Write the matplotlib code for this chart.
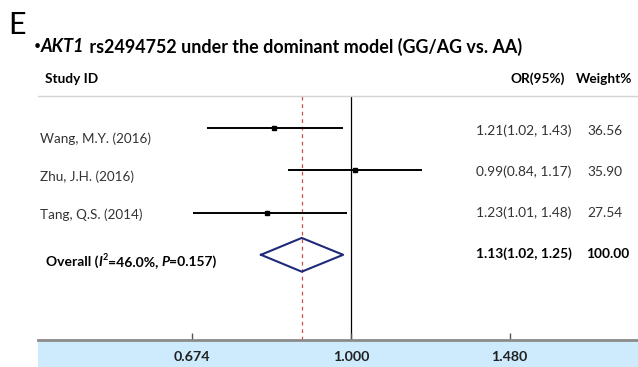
import numpy as np
import matplotlib
matplotlib.use('Agg')
import matplotlib.pyplot as plt

plt.rcParams['font.family'] = ['Lato', 'DejaVu Sans']

# data
studies = ['Wang, M.Y. (2016)', 'Zhu, J.H. (2016)', 'Tang, Q.S. (2014)']
or_est = [1.21, 0.99, 1.23]
or_low = [1.02, 0.84, 1.01]
or_high = [1.43, 1.17, 1.48]
weights = ['36.56', '35.90', '27.54']
pooled = [1.13, 1.02, 1.25]
pooled_weight = '100.00'
xticks = [0.674, 1.000, 1.480]
xtick_labels = ['0.674', '1.000', '1.480']

W, H = 638, 367
fig = plt.figure(figsize=(W / 100, H / 100), dpi=100)

def fx(x):
    return x / W

def fy(y):
    return 1 - y / H

# blue band under the axis (own axes, drawn first)
band = fig.add_axes([fx(38), 0, 1 - fx(38), 25 / H])
band.set_facecolor('#cdebfd')
band.set_xticks([])
band.set_yticks([])
for s in band.spines.values():
    s.set_visible(False)
band.set_zorder(0)

# main forest axes: spans pixel x 38..638, y 96..340
ax = fig.add_axes([fx(38), fy(340), fx(600), 244 / H])
ax.set_zorder(1)
ax.patch.set_alpha(0)
ax.set_xscale('log')
ax.set_xlim(np.exp(-0.775), np.exp(0.710))
ax.set_ylim(5.02, -0.765)
ax.set_yticks([])
for s in ['left', 'right']:
    ax.spines[s].set_visible(False)
ax.spines['top'].set_color('#d4d4d4')
ax.spines['top'].set_linewidth(1)
ax.spines['bottom'].set_color('#8a8a8a')
ax.spines['bottom'].set_linewidth(2)
ax.xaxis.set_minor_locator(matplotlib.ticker.NullLocator())
ax.set_xticks(xticks)
ax.set_xticklabels(xtick_labels, fontsize=10.3, fontweight='bold', color='#222222')
ax.tick_params(axis='x', direction='in', length=5, width=1, color='#555555', pad=8)

# reference lines (plot is drawn on the inverted OR)
ax.axvline(1, color='black', lw=0.9, zorder=1)
ax.axvline(1 / pooled[0], color='#c8504d', lw=0.9, ls=(0, (3, 3)), zorder=1)

for i in range(len(studies)):
    ax.hlines(i, 1 / or_high[i], 1 / or_low[i], color='black', lw=1.4, zorder=2)
    ax.plot(1 / or_est[i], i, 's', color='black', markersize=3, zorder=3)

k = len(studies)
dx = [1 / pooled[2], 1 / pooled[0], 1 / pooled[1], 1 / pooled[0], 1 / pooled[2]]
dy = [k, k - 0.4, k, k + 0.4, k]
ax.plot(dx, dy, color='#1f2a7a', lw=1.5, zorder=3)

# text helpers
renderer = fig.canvas.get_renderer()

def runs(x, y, parts, size):
    # draw text pieces one after another starting at pixel x
    for txt, kw in parts:
        k2 = dict(kw)
        sz = k2.pop('size', size)
        dyp = k2.pop('dy', 0)
        t = fig.text(fx(x), fy(y - dyp), txt, fontsize=sz, va='center', ha='left', **k2)
        bb = t.get_window_extent(renderer=renderer)
        x += bb.width

fig.text(fx(8), fy(25), 'E', fontsize=22, va='center', ha='left')
runs(34, 47, [('\u2022', {'size': 9, 'dy': 1}), ('AKT1', {'fontweight': 'bold', 'fontstyle': 'italic'}),
              (' rs2494752 under the dominant model (GG/AG vs. AA)', {'fontweight': 'bold'})], 12.9)

fig.text(fx(45), fy(79), 'Study ID', fontsize=9.8, fontweight='bold', va='center')
fig.text(fx(565), fy(79), 'OR(95%)', fontsize=9.8, fontweight='bold', va='center', ha='right')
fig.text(fx(576), fy(79), 'Weight%', fontsize=9.8, fontweight='bold', va='center')

label_y = [139, 177, 215]
right_y = [131, 172, 213]
for i in range(len(studies)):
    fig.text(fx(40), fy(label_y[i]), studies[i], fontsize=9.7, color='#333333', va='center')
    fig.text(fx(476), fy(right_y[i]), f'{or_est[i]:.2f}({or_low[i]:.2f}, {or_high[i]:.2f})',
             fontsize=9.9, color='#333333', va='center')
    fig.text(fx(587), fy(right_y[i]), weights[i], fontsize=9.9, color='#333333', va='center')

b = {'fontweight': 'bold'}
bi = {'fontweight': 'bold', 'fontstyle': 'italic'}
runs(46, 262, [('Overall (', b), ('I', bi), ('2', dict(b, size=6.5, dy=4)), ('=46.0%, ', b),
               ('P', bi), ('=0.157)', b)], 10)
fig.text(fx(476), fy(254), f'{pooled[0]:.2f}({pooled[1]:.2f}, {pooled[2]:.2f})',
         fontsize=9.9, fontweight='bold', va='center')
fig.text(fx(586), fy(254), pooled_weight, fontsize=9.9, fontweight='bold', va='center')

fig.savefig('out.png', dpi=100)
